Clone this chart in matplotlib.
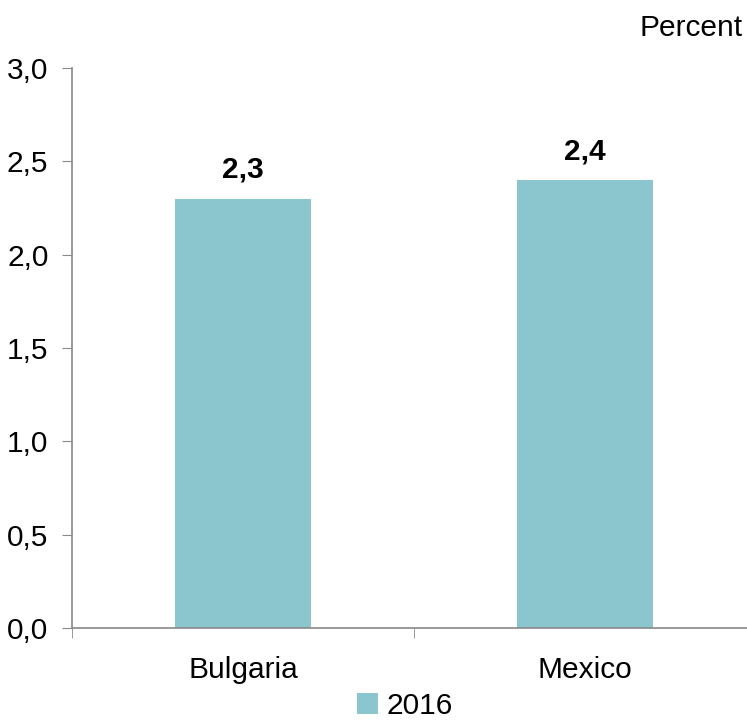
import matplotlib.pyplot as plt
from matplotlib.ticker import FuncFormatter, FixedLocator

plt.rcParams['font.family'] = ['Liberation Sans', 'DejaVu Sans']

countries = ['Bulgaria', 'Mexico']
values_2016 = [2.3, 2.4]
series_name = '2016'

BAR = '#8BC6CE'
GREY = '#898989'
FS = 21.5

fig = plt.figure(figsize=(7.47, 7.2), dpi=100)
ax = fig.add_axes([72 / 747, 92 / 720, 684 / 747, 560 / 720])

x = range(len(countries))
bars = ax.bar(x, values_2016, width=0.4, color=BAR, label=series_name, zorder=2)
for b, v in zip(bars, values_2016):
    ax.text(b.get_x() + b.get_width() / 2, v + 0.08, f'{v:.1f}'.replace('.', ','),
            ha='center', va='bottom', fontsize=FS, fontweight='bold')

ax.set_xlim(-0.5, len(countries) - 0.5)
ax.set_ylim(0, 3.0)
ax.set_yticks([0, 0.5, 1.0, 1.5, 2.0, 2.5, 3.0])
ax.yaxis.set_major_formatter(FuncFormatter(lambda v, p: f'{v:.1f}'.replace('.', ',')))
ax.set_xticks(list(x))
ax.set_xticklabels(countries)
ax.xaxis.set_minor_locator(FixedLocator([-0.5, 0.5, 1.5]))
ax.tick_params(axis='x', which='major', length=0, labelsize=FS, pad=20)
ax.tick_params(axis='x', which='minor', length=7, color=GREY, direction='out')
ax.tick_params(axis='y', length=7, color=GREY, labelsize=FS, pad=10)

for s in ['top', 'right']:
    ax.spines[s].set_visible(False)
for s in ['left', 'bottom']:
    ax.spines[s].set_color(GREY)
    ax.spines[s].set_linewidth(1.2)

fig.text(743 / 747, 1 - 28 / 720, 'Percent', ha='right', va='center', fontsize=FS)

fig.legend(loc='center', bbox_to_anchor=(405 / 747, 1 - 706 / 720), frameon=False,
           fontsize=FS, handlelength=0.7, handleheight=0.7, handletextpad=0.3)

fig.savefig('out.png', dpi=100)
